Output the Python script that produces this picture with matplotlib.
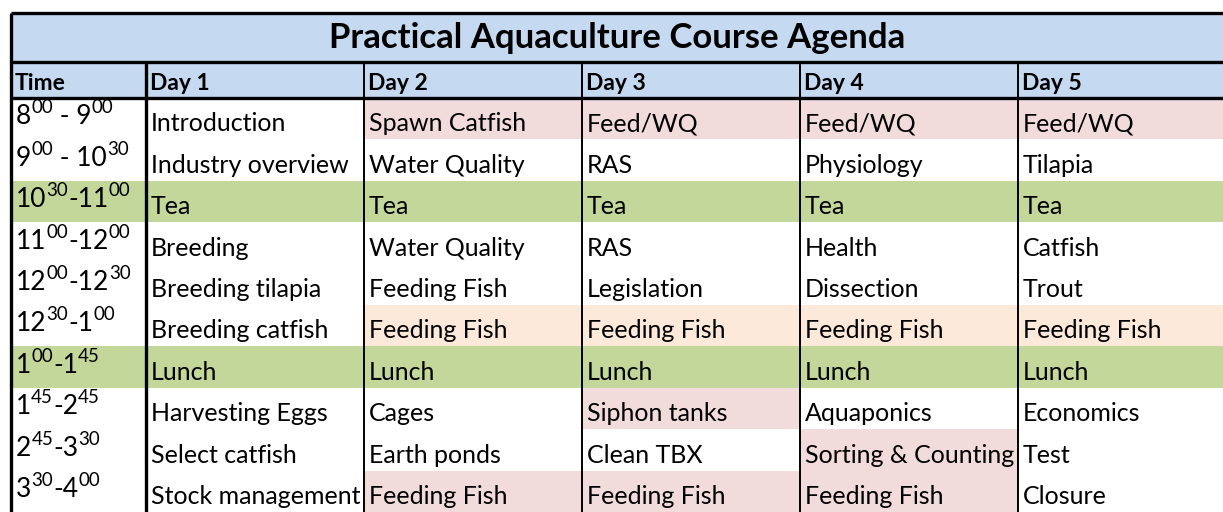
import re
import matplotlib
matplotlib.use("Agg")
import matplotlib.pyplot as plt
from matplotlib.patches import Rectangle

title = "Practical Aquaculture Course Agenda"
headers = ["Time", "Day 1", "Day 2", "Day 3", "Day 4", "Day 5"]
times = ["8^{00} - 9^{00}", "9^{00} - 10^{30}", "10^{30}-11^{00}", "11^{00}-12^{00}",
         "12^{00}-12^{30}", "12^{30}-1^{00}", "1^{00}-1^{45}", "1^{45}-2^{45}",
         "2^{45}-3^{30}", "3^{30}-4^{00}"]
day1 = ["Introduction", "Industry overview", "Tea", "Breeding", "Breeding tilapia",
        "Breeding catfish", "Lunch", "Harvesting Eggs", "Select catfish", "Stock management"]
day2 = ["Spawn Catfish", "Water Quality", "Tea", "Water Quality", "Feeding Fish",
        "Feeding Fish", "Lunch", "Cages", "Earth ponds", "Feeding Fish"]
day3 = ["Feed/WQ", "RAS", "Tea", "RAS", "Legislation",
        "Feeding Fish", "Lunch", "Siphon tanks", "Clean TBX", "Feeding Fish"]
day4 = ["Feed/WQ", "Physiology", "Tea", "Health", "Dissection",
        "Feeding Fish", "Lunch", "Aquaponics", "Sorting & Counting", "Feeding Fish"]
day5 = ["Feed/WQ", "Tilapia", "Tea", "Catfish", "Trout",
        "Feeding Fish", "Lunch", "Economics", "Test", "Closure"]
# fill codes per row: time, day1..day5  (w white, p pink, o peach, g green)
fills = ["wwpppp", "wwwwww", "gggggg", "wwwwww", "wwwwww",
         "wwoooo", "gggggg", "wwwpww", "wwwwpw", "wwpppw"]

colors = {"w": "white", "p": "#F2DCDB", "o": "#FDE9D9", "g": "#C4D79B"}
blue = "#C5D9F1"
font = "Lato"

W, H = 1223, 512
fig = plt.figure(figsize=(W / 100, H / 100), dpi=100)
ax = fig.add_axes([0, 0, 1, 1])
ax.set_xlim(0, W)
ax.set_ylim(H, 0)
ax.axis("off")

col_x = [11, 146, 364, 582, 800, 1018, 1240]
top, title_bot, head_bot = 13, 62, 98
row_h = 41.4
days = [day1, day2, day3, day4, day5]

# title + header background
ax.add_patch(Rectangle((col_x[0], top), W - col_x[0], head_bot - top, color=blue, lw=0))
ax.text((col_x[0] + W) / 2, (top + title_bot) / 2 + 1, title, fontsize=25, fontweight="bold",
        family=font, ha="center", va="center")
for i, h in enumerate(headers):
    ax.text(col_x[i] + 4, head_bot - 8, h, fontsize=16.5, fontweight="bold", family=font,
            ha="left", va="baseline")

# cell fills and text
for r in range(len(times)):
    y0 = head_bot + r * row_h
    for c in range(6):
        ax.add_patch(Rectangle((col_x[c], y0), col_x[c + 1] - col_x[c], row_h,
                               color=colors[fills[r][c]], lw=0))
    for c, d in enumerate(days):
        ax.text(col_x[c + 1] + 5, y0 + row_h - 8, d[r], fontsize=18, family=font,
                ha="left", va="baseline")

# time labels with superscripts
fig.canvas.draw()
rend = fig.canvas.get_renderer()
for r, t in enumerate(times):
    y = head_bot + r * row_h + row_h - 15
    x = 16
    for part in re.split(r"(\^\{\d+\})", t):
        if not part:
            continue
        if part.startswith("^"):
            txt = ax.text(x, y - 11, part[2:-1], fontsize=13.5, family=font, ha="left", va="baseline")
        else:
            txt = ax.text(x, y, part, fontsize=19, family=font, ha="left", va="baseline")
        bb = txt.get_window_extent(rend)
        x += bb.width

# grid lines
lk = dict(color="black", solid_capstyle="butt")
ax.plot([col_x[0], W], [top, top], lw=2.4, **lk)
ax.plot([col_x[0], W], [title_bot, title_bot], lw=2.4, **lk)
ax.plot([col_x[0], W], [head_bot, head_bot], lw=2.4, **lk)
ax.plot([col_x[0], col_x[0]], [top, H], lw=2.4, **lk)
ax.plot([col_x[1], col_x[1]], [title_bot, H], lw=2.4, **lk)
for xv in col_x[2:6]:
    ax.plot([xv, xv], [title_bot, H], lw=1.4, **lk)

fig.savefig("out.png", dpi=100)
